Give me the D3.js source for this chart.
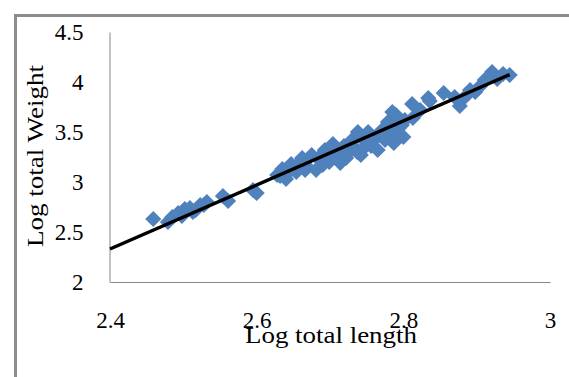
<!DOCTYPE html>
<html>
<head>
<meta charset="utf-8">
<script src="https://cdn.jsdelivr.net/npm/d3@7"></script>
<style>
  body { margin: 0; background: #fff; }
  svg { display: block; }
  text { font-family: "Liberation Serif", "Times New Roman", serif; fill: #000; }
</style>
</head>
<body>
<script>
// log total length (x) and log total weight (y)
var logLength = [2.459, 2.479, 2.485, 2.493, 2.498, 2.502, 2.509, 2.513, 2.517, 2.523,
    2.528, 2.532, 2.554, 2.561, 2.595, 2.600, 2.628, 2.632, 2.635, 2.640,
    2.644, 2.647, 2.654, 2.658, 2.662, 2.666, 2.669, 2.675, 2.681, 2.684,
    2.686, 2.690, 2.693, 2.699, 2.701, 2.704, 2.708, 2.711, 2.714, 2.719,
    2.722, 2.725, 2.727, 2.730, 2.734, 2.737, 2.738, 2.742, 2.746, 2.749,
    2.752, 2.756, 2.759, 2.761, 2.765, 2.768, 2.771, 2.775, 2.776, 2.779,
    2.783, 2.785, 2.787, 2.790, 2.793, 2.794, 2.798, 2.800, 2.802, 2.812,
    2.813, 2.823, 2.834, 2.836, 2.855, 2.870, 2.877, 2.884, 2.891, 2.898,
    2.905, 2.911, 2.921, 2.928, 2.936, 2.945];
var logWeight = [2.63, 2.60, 2.65, 2.69, 2.66, 2.73, 2.74, 2.70, 2.72, 2.77,
    2.77, 2.80, 2.86, 2.81, 2.92, 2.89, 3.07, 3.06, 3.13, 3.03,
    3.10, 3.18, 3.10, 3.19, 3.24, 3.12, 3.15, 3.27, 3.12, 3.24,
    3.22, 3.17, 3.32, 3.20, 3.29, 3.38, 3.27, 3.32, 3.19, 3.36,
    3.24, 3.29, 3.36, 3.42, 3.34, 3.30, 3.50, 3.27, 3.42, 3.36,
    3.50, 3.36, 3.42, 3.44, 3.32, 3.47, 3.52, 3.42, 3.54, 3.60,
    3.49, 3.70, 3.39, 3.67, 3.49, 3.54, 3.57, 3.45, 3.62, 3.78,
    3.64, 3.72, 3.84, 3.81, 3.89, 3.85, 3.76, 3.85, 3.92, 3.90,
    3.96, 4.02, 4.10, 4.03, 4.08, 4.07];

// linear trendline
var trendSlope = 3.2;
var trendIntercept = -5.35;
var trendRange = [2.4, 2.945];

var xTicks = [2.4, 2.6, 2.8, 3];
var yTicks = [2, 2.5, 3, 3.5, 4, 4.5];
var xTitle = "Log total length";
var yTitle = "Log total Weight";

var width = 569, height = 377;

var svg = d3.select("body").append("svg")
    .attr("width", width)
    .attr("height", height);

// outer frame (only top and left edges show)
svg.append("path")
    .attr("d", "M15.5," + height + "V15.5H" + width)
    .attr("fill", "none")
    .attr("stroke", "#8c8c8c")
    .attr("stroke-width", 3);

var x = d3.scaleLinear().domain([2.4, 3]).range([110, 550]);
var y = d3.scaleLinear().domain([2, 4.5]).range([282, 32]);

var fmt = d3.format("~g");

var xAxis = svg.append("g")
    .attr("transform", "translate(0,282)")
    .call(d3.axisBottom(x).tickValues(xTicks).tickFormat(fmt).tickSize(0).tickSizeOuter(0));
xAxis.selectAll("text")
    .attr("y", 46)
    .attr("dy", 0)
    .style("font-size", "23px");

var yAxis = svg.append("g")
    .attr("transform", "translate(109.5,0)")
    .call(d3.axisLeft(y).tickValues(yTicks).tickFormat(fmt).tickSize(0).tickSizeOuter(0).tickPadding(26));
yAxis.selectAll("text")
    .attr("dy", "0.33em")
    .style("font-size", "23px");

svg.selectAll(".domain")
    .attr("stroke", "#868686")
    .attr("stroke-width", 1);

// points
var diamond = d3.symbol().type(d3.symbolSquare).size(130);
svg.append("g")
    .selectAll("path")
    .data(logLength)
    .enter()
    .append("path")
    .attr("d", diamond)
    .attr("fill", "#4f81bd")
    .attr("transform", function (d, i) {
        return "translate(" + x(d) + "," + y(logWeight[i]) + ") rotate(45)";
    });

// trendline
var line = d3.line()
    .x(function (d) { return x(d); })
    .y(function (d) { return y(trendSlope * d + trendIntercept); });

svg.append("path")
    .datum(trendRange)
    .attr("d", line)
    .attr("fill", "none")
    .attr("stroke", "#000")
    .attr("stroke-width", 3.5);

// axis titles
svg.append("text")
    .attr("x", 331)
    .attr("y", 343)
    .attr("text-anchor", "middle")
    .attr("textLength", 172)
    .attr("lengthAdjust", "spacingAndGlyphs")
    .style("font-size", "23px")
    .text(xTitle);

svg.append("text")
    .attr("transform", "translate(43,156) rotate(-90)")
    .attr("text-anchor", "middle")
    .attr("textLength", 182)
    .attr("lengthAdjust", "spacingAndGlyphs")
    .style("font-size", "23px")
    .text(yTitle);
</script>
</body>
</html>
